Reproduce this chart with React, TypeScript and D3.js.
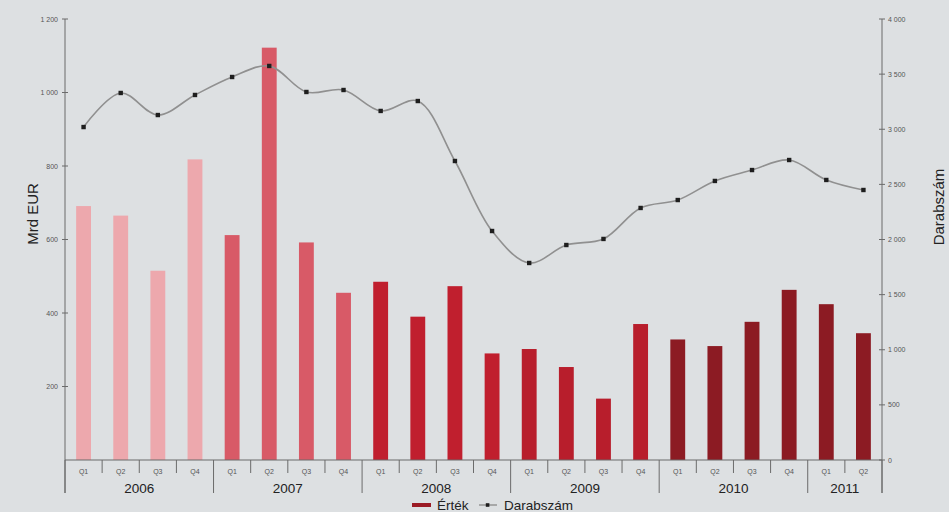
import React from "react";
import * as d3 from "d3";

const years = ["2006", "2007", "2008", "2009", "2010", "2011"];
const quartersPerYear = [4, 4, 4, 4, 4, 2];
const quarterLabels = [
  "Q1","Q2","Q3","Q4","Q1","Q2","Q3","Q4","Q1","Q2","Q3","Q4",
  "Q1","Q2","Q3","Q4","Q1","Q2","Q3","Q4","Q1","Q2",
];
const ertek = [
  691, 665, 515, 818,
  612, 1122, 592, 455,
  485, 390, 473, 290,
  302, 253, 167, 370,
  328, 310, 376, 463,
  424, 345,
];
const darabszam = [
  3020, 3329, 3129, 3311,
  3474, 3574, 3338, 3356,
  3166, 3256, 2712, 2077,
  1787, 1950, 2005, 2286,
  2358, 2531, 2630, 2721,
  2540, 2449,
];
const yearColors = ["#eda8ad", "#d85a67", "#c01f2e", "#b81e2c", "#8c1b23", "#8c1b23"];
const leftTicks = [200, 400, 600, 800, 1000, 1200];
const rightTicks = [0, 500, 1000, 1500, 2000, 2500, 3000, 3500, 4000];

const W = 949, H = 512;
const X0 = 65, X1 = 882, Y0 = 460, YT = 19;

function fmt(v: number) {
  const s = String(v);
  if (s.length > 3) return s.slice(0, s.length - 3) + "\u00a0" + s.slice(-3);
  return s;
}

export default function App() {
  const ids = quarterLabels.map((_, i) => String(i));
  const x = d3.scaleBand<string>().domain(ids).range([X0, X1]).paddingInner(0.6).paddingOuter(0.3);
  const step = x.step();
  const yL = d3.scaleLinear().domain([0, 1200]).range([Y0, YT]);
  const yR = d3.scaleLinear().domain([0, 4000]).range([Y0, YT]);

  const yearIdx: number[] = [];
  quartersPerYear.forEach((n, yi) => { for (let k = 0; k < n; k++) yearIdx.push(yi); });

  const line = d3.line<number>()
    .x((_, i) => (x(String(i)) as number) + x.bandwidth() / 2)
    .y((d) => yR(d))
    .curve(d3.curveCatmullRom.alpha(0.5));

  const yearStarts: number[] = [];
  let acc = 0;
  quartersPerYear.forEach((n) => { yearStarts.push(acc); acc += n; });
  yearStarts.push(acc);

  const font = "'Liberation Sans', Arial, sans-serif";

  return (
    <svg width={W} height={H} style={{ position: "absolute", left: 0, top: 0 }} fontFamily={font}>
      <rect x={0} y={0} width={W} height={H} fill="#dde0e2" />
      {ertek.map((v, i) => (
        <rect key={"b" + i} x={x(String(i))} y={yL(v)} width={x.bandwidth()} height={Y0 - yL(v)} fill={yearColors[yearIdx[i]]} />
      ))}
      <path d={line(darabszam) || ""} fill="none" stroke="#909090" strokeWidth={1.6} />
      {darabszam.map((v, i) => (
        <rect key={"m" + i} x={(x(String(i)) as number) + x.bandwidth() / 2 - 2.2} y={yR(v) - 2.2} width={4.4} height={4.4} fill="#1e1e1e" />
      ))}
      <line x1={X0} x2={X0} y1={YT} y2={493} stroke="#6b6b6b" strokeWidth={1} />
      {leftTicks.map((t) => (
        <g key={"lt" + t}>
          <line x1={X0 - 3} x2={X0 + 3} y1={yL(t)} y2={yL(t)} stroke="#6b6b6b" />
          <text x={X0 - 7} y={yL(t) + 2.5} fontSize={7} fill="#555" textAnchor="end">{fmt(t)}</text>
        </g>
      ))}
      <line x1={X1} x2={X1} y1={YT} y2={493} stroke="#6b6b6b" strokeWidth={1} />
      {rightTicks.map((t) => (
        <g key={"rt" + t}>
          <line x1={X1 - 3} x2={X1 + 3} y1={yR(t)} y2={yR(t)} stroke="#6b6b6b" />
          <text x={X1 + 6} y={yR(t) + 2.5} fontSize={7} fill="#555" textAnchor="start">{fmt(t)}</text>
        </g>
      ))}
      <line x1={X0} x2={X1} y1={Y0} y2={Y0} stroke="#6b6b6b" strokeWidth={1.2} />
      {d3.range(1, quarterLabels.length).filter((i) => !yearStarts.includes(i)).map((i) => (
        <line key={"qs" + i} x1={X0 + i * step} x2={X0 + i * step} y1={Y0} y2={473} stroke="#6b6b6b" />
      ))}
      {yearStarts.map((i) => (
        <line key={"ys" + i} x1={X0 + i * step} x2={X0 + i * step} y1={Y0} y2={493} stroke="#6b6b6b" />
      ))}
      {quarterLabels.map((q, i) => (
        <text key={"ql" + i} x={(x(String(i)) as number) + x.bandwidth() / 2} y={474} fontSize={7} fill="#555" textAnchor="middle">{q}</text>
      ))}
      {years.map((yv, yi) => (
        <text key={"yl" + yv} x={X0 + ((yearStarts[yi] + yearStarts[yi + 1]) / 2) * step} y={493} fontSize={13.5} fill="#222" textAnchor="middle">{yv}</text>
      ))}
      <text transform="translate(38,214) rotate(-90)" fontSize={15} fill="#222" textAnchor="middle">Mrd EUR</text>
      <text transform="translate(944,207) rotate(-90)" fontSize={15} fill="#222" textAnchor="middle">Darabszám</text>
      <rect x={412} y={503} width={19} height={4} fill="#9b1b25" />
      <text x={437} y={509.5} fontSize={13.5} fill="#222">Érték</text>
      <line x1={479} x2={497} y1={505} y2={505} stroke="#909090" strokeWidth={1.4} />
      <rect x={485.8} y={503.2} width={3.6} height={3.6} fill="#1e1e1e" />
      <text x={504} y={509.5} fontSize={13.5} fill="#222">Darabszám</text>
    </svg>
  );
}
